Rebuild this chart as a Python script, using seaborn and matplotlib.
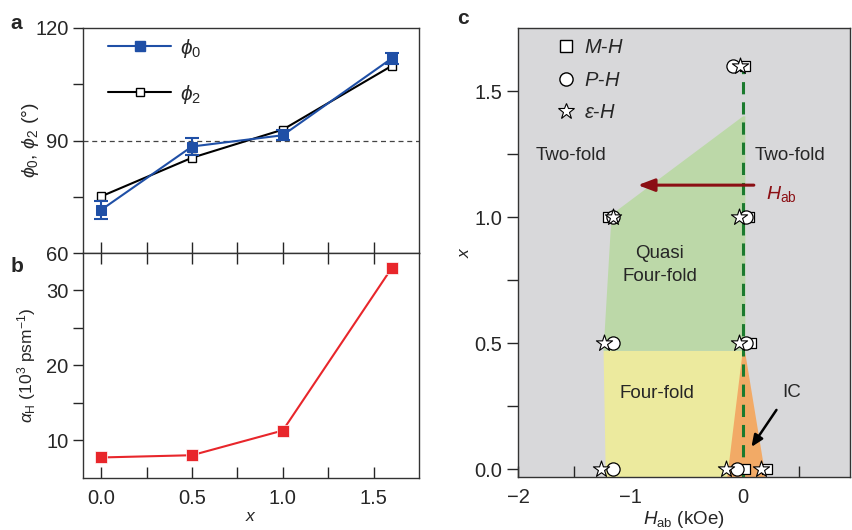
import numpy as np
import pandas as pd
import seaborn as sns
import matplotlib.pyplot as plt
from matplotlib.lines import Line2D
from matplotlib.patches import Polygon

# data
x_conc = [0.0, 0.5, 1.0, 1.6]
phi0 = [71.5, 88.4, 91.4, 111.9]
phi0_err = [2.5, 2.2, 1.3, 1.5]
phi2 = [75.1, 85.4, 92.9, 109.9]
alpha_h = [7.7, 8.0, 11.3, 33.0]

# phase diagram points (H_ab in kOe, x)
mh_field = [0.02, -1.20, 0.05, 0.07, 0.02, 0.21]
mh_x = [1.6, 1.0, 1.0, 0.5, 0.0, 0.0]
ph_field = [-0.09, -1.16, 0.03, -1.16, 0.03, -1.16, -0.05]
ph_x = [1.6, 1.0, 1.0, 0.5, 0.5, 0.0, 0.0]
eh_field = [-0.03, -1.16, -0.04, -1.24, -0.04, -1.26, -0.15, 0.16]
eh_x = [1.6, 1.0, 1.0, 0.5, 0.5, 0.0, 0.0, 0.0]

# phase regions
quasi_region = [(-1.24, 0.47), (-1.17, 1.0), (-1.14, 1.02), (0.0, 1.40), (0.02, 1.40), (0.02, 0.47)]
four_region = [(-1.24, 0.47), (0.02, 0.47), (0.0, 0.445), (-0.13, -0.03), (-1.22, -0.03)]
ic_region = [(0.005, 0.50), (-0.14, -0.03), (0.20, -0.03)]

sns.set_style("ticks")
plt.rcParams['font.family'] = ['Liberation Sans', 'DejaVu Sans']
plt.rcParams['mathtext.fontset'] = 'custom'
plt.rcParams['mathtext.rm'] = 'Liberation Sans'
plt.rcParams['mathtext.it'] = 'Liberation Sans:italic'
plt.rcParams['axes.edgecolor'] = '#333333'
plt.rcParams['axes.linewidth'] = 1.0

FS = 12.5      # axis labels
TS = 14.5      # tick labels
blue = '#1f4fa6'
red = '#e8262b'

fig = plt.figure(figsize=(8.52, 5.30), dpi=100)
ax_a = fig.add_axes([0.0974, 0.5226, 0.3944, 0.4246])
ax_b = fig.add_axes([0.0974, 0.0987, 0.3944, 0.4239])
ax_c = fig.add_axes([0.608, 0.1, 0.3897, 0.8472])

# ---- panel a
df_a = pd.DataFrame({'x': x_conc, 'phi0': phi0, 'phi2': phi2})
ax_a.axhline(90, color='#444444', lw=0.9, ls=(0, (4, 3)), zorder=1)
sns.lineplot(data=df_a, x='x', y='phi2', ax=ax_a, color='black', lw=1.5,
             marker='s', markersize=6, markerfacecolor='white',
             markeredgecolor='black', markeredgewidth=1.0, zorder=2)
ax_a.errorbar(x_conc, phi0, yerr=phi0_err, fmt='none', ecolor=blue,
              elinewidth=1.5, capsize=5, capthick=1.5, zorder=3)
sns.lineplot(data=df_a, x='x', y='phi0', ax=ax_a, color=blue, lw=1.5,
             marker='s', markersize=7, markerfacecolor=blue,
             markeredgecolor=blue, zorder=4)
ax_a.set_xlim(-0.1, 1.75)
ax_a.set_ylim(60, 120)
ax_a.set_yticks([60, 90, 120])
ax_a.set_yticks([75, 105], minor=True)
ax_a.set_xticks([0, 0.5, 1.0, 1.5])
ax_a.set_xticks([0.25, 0.75, 1.25], minor=True)
ax_a.tick_params(axis='x', which='both', direction='in', length=8, width=1,
                 labelbottom=False)
ax_a.tick_params(axis='y', which='both', direction='out', length=7, width=1,
                 labelsize=TS)
ax_a.set_xlabel('')
ax_a.set_ylabel(r'$\phi_0$, $\phi_2$ (°)', fontsize=14)
ax_a.yaxis.set_label_coords(-0.125, 0.5)
handles = [Line2D([], [], color=blue, lw=1.5, marker='s', markersize=7,
                  markerfacecolor=blue, markeredgecolor=blue),
           Line2D([], [], color='black', lw=1.5, marker='s', markersize=6,
                  markerfacecolor='white', markeredgecolor='black')]
ax_a.legend(handles, [r'$\phi_0$', r'$\phi_2$'], loc='upper left', frameon=False,
            fontsize=15, handlelength=3.0, handletextpad=0.45,
            labelspacing=1.1, bbox_to_anchor=(0.02, 1.045))
for s in ax_a.spines.values():
    s.set_visible(True)
fig.text(0.012, 0.955, 'a', fontsize=15, fontweight='bold', va='center')

# ---- panel b
df_b = pd.DataFrame({'x': x_conc, 'alpha': alpha_h})
sns.lineplot(data=df_b, x='x', y='alpha', ax=ax_b, color=red, lw=1.5,
             marker='s', markersize=8.5, markerfacecolor=red,
             markeredgecolor='white', markeredgewidth=0.5)
ax_b.set_xlim(-0.1, 1.75)
ax_b.set_ylim(5, 35)
ax_b.set_yticks([10, 20, 30])
ax_b.set_yticks([15, 25], minor=True)
ax_b.set_xticks([0, 0.5, 1.0, 1.5])
ax_b.set_xticks([0.25, 0.75, 1.25], minor=True)
ax_b.set_xticklabels(['0.0', '0.5', '1.0', '1.5'])
ax_b.tick_params(axis='x', which='both', direction='in', length=8, width=1,
                 top=True, labelsize=TS, pad=8)
ax_b.tick_params(axis='y', which='both', direction='out', length=7, width=1,
                 labelsize=TS)
ax_b.set_xlabel('$x$', fontsize=FS, labelpad=1)
ax_b.set_ylabel(r'$\alpha_{\rm H}$ (10$^3$ psm$^{-1}$)', fontsize=FS)
ax_b.yaxis.set_label_coords(-0.135, 0.5)
for s in ax_b.spines.values():
    s.set_visible(True)
fig.text(0.012, 0.497, 'b', fontsize=15, fontweight='bold', va='center')

# ---- panel c
ax_c.set_facecolor('#d8d8da')
ax_c.add_patch(Polygon(four_region, closed=True, fc='#ecea9e', ec='none', zorder=1))
ax_c.add_patch(Polygon(ic_region, closed=True, fc='#f2aa66', ec='none', zorder=1))
ax_c.add_patch(Polygon(quasi_region, closed=True, fc='#bcd8a8', ec='none', zorder=1))
ax_c.plot([0, 0], [-0.03, 1.6], color='#1b7a2e', lw=2.2, ls=(0, (4, 2.6)), zorder=2)

sns.scatterplot(x=mh_field, y=mh_x, ax=ax_c, marker='s', s=55, color='white',
                edgecolor='black', linewidth=0.9, zorder=3)
sns.scatterplot(x=ph_field, y=ph_x, ax=ax_c, marker='o', s=90, color='white',
                edgecolor='black', linewidth=0.9, zorder=4)
sns.scatterplot(x=eh_field, y=eh_x, ax=ax_c, marker='*', s=150, color='white',
                edgecolor='black', linewidth=0.8, zorder=5)

ax_c.annotate('', xy=(-0.96, 1.127), xytext=(0.12, 1.127),
              arrowprops=dict(arrowstyle='-|>,head_length=1.0,head_width=0.38',
                              color='#8b0f14', lw=2.2), zorder=6)
ax_c.text(0.2, 1.09, r'$H_{\rm ab}$', color='#8b0f14', fontsize=14,
          ha='left', va='center')
ax_c.annotate('', xy=(0.06, 0.08), xytext=(0.31, 0.245),
              arrowprops=dict(arrowstyle='-|>,head_length=0.7,head_width=0.3',
                              color='black', lw=1.8), zorder=6)
ax_c.text(0.43, 0.305, 'IC', fontsize=13.5, ha='center', va='center')
ax_c.text(-1.53, 1.245, 'Two-fold', fontsize=13.5, ha='center', va='center')
ax_c.text(0.42, 1.245, 'Two-fold', fontsize=13.5, ha='center', va='center')
ax_c.text(-0.74, 0.81, 'Quasi\nFour-fold', fontsize=13.5, ha='center',
          va='center', linespacing=1.5)
ax_c.text(-0.77, 0.30, 'Four-fold', fontsize=13.5, ha='center', va='center')

leg_handles = [Line2D([], [], ls='none', marker='s', markersize=8,
                      markerfacecolor='white', markeredgecolor='black'),
               Line2D([], [], ls='none', marker='o', markersize=9.5,
                      markerfacecolor='white', markeredgecolor='black'),
               Line2D([], [], ls='none', marker='*', markersize=12,
                      markerfacecolor='white', markeredgecolor='black',
                      markeredgewidth=0.8)]
ax_c.legend(leg_handles, [r'$M$-$H$', r'$P$-$H$', r'$\varepsilon$-$H$'],
            loc='upper left', frameon=False, fontsize=14.5,
            handlelength=1.0, handletextpad=0.4, labelspacing=0.68,
            bbox_to_anchor=(0.06, 1.018))

ax_c.set_xlim(-2, 0.95)
ax_c.set_ylim(-0.03, 1.75)
ax_c.set_xticks([-2, -1, 0])
ax_c.set_xticklabels(['\u22122', '\u22121', '0'])
ax_c.set_xticks([-1.5, -0.5, 0.5], minor=True)
ax_c.set_yticks([0, 0.5, 1.0, 1.5])
ax_c.set_yticklabels(['0.0', '0.5', '1.0', '1.5'])
ax_c.set_yticks([0.25, 0.75, 1.25], minor=True)
ax_c.tick_params(axis='x', which='both', direction='in', length=8, width=1,
                 labelsize=TS, pad=8)
ax_c.tick_params(axis='y', which='both', direction='out', length=8, width=1,
                 labelsize=TS)
ax_c.set_xlabel(r'$H_{\rm ab}$ (kOe)', fontsize=FS + 1, labelpad=1)
ax_c.set_ylabel('$x$', fontsize=FS)
ax_c.yaxis.set_label_coords(-0.14, 0.5)
for s in ax_c.spines.values():
    s.set_visible(True)
fig.text(0.537, 0.965, 'c', fontsize=15, fontweight='bold', va='center')

fig.savefig('out.png', dpi=100)
